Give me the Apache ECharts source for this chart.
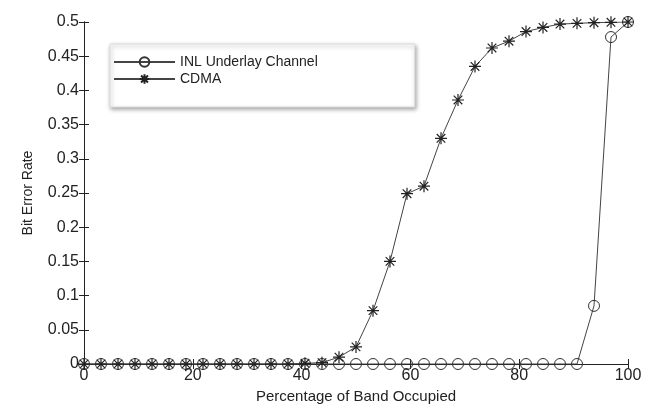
<!DOCTYPE html>
<html><head><meta charset="utf-8">
<script src="https://cdn.jsdelivr.net/npm/echarts@6/dist/echarts.min.js"></script>
<style>html,body{margin:0;padding:0;background:#fff}#c{width:655px;height:417px}</style>
</head><body><div id="c"></div>
<script>
const xValues = [0,3.125,6.25,9.375,12.5,15.625,18.75,21.875,25,28.125,31.25,34.375,37.5,40.625,43.75,46.875,50,53.125,56.25,59.375,62.5,65.625,68.75,71.875,75,78.125,81.25,84.375,87.5,90.625,93.75,96.875,100];
const inlValues = [0,0,0,0,0,0,0,0,0,0,0,0,0,0,0,0,0,0,0,0,0,0,0,0,0,0,0,0,0,0,0.085,0.478,0.5];
const cdmaValues = [0,0,0,0,0,0,0,0,0,0,0,0,0,0.001,0.002,0.010,0.025,0.078,0.150,0.249,0.260,0.330,0.386,0.435,0.462,0.472,0.486,0.492,0.497,0.498,0.499,0.4995,0.5];
const seriesNames = ['INL Underlay Channel','CDMA'];
const xTicks = [0,20,40,60,80,100];

const star = 'path://M0 -6 L0 6 M-6 0 L6 0 M-4.3 -4.3 L4.3 4.3 M-4.3 4.3 L4.3 -4.3';
const font = 'Liberation Sans, Arial, sans-serif';
const chart = echarts.init(document.getElementById('c'));
const pair = (vals) => xValues.map((x,i)=>[x,vals[i]]);
const axisCommon = {
  axisLine:{show:true,lineStyle:{color:'#222',width:1}},
  axisTick:{show:true,inside:true,length:5,lineStyle:{color:'#222'}},
  splitLine:{show:false}
};
chart.setOption({
  animation:false,
  backgroundColor:'#fff',
  grid:{left:84,right:27,top:22,bottom:53,containLabel:false},
  legend:{
    left:110, top:44, orient:'vertical',
    data:seriesNames,
    itemWidth:61, itemHeight:12, itemGap:3,
    padding:[11,97,21,3],
    backgroundColor:'#fff', borderColor:'#ddd', borderWidth:1,
    shadowBlur:4, shadowColor:'rgba(0,0,0,0.35)', shadowOffsetX:1, shadowOffsetY:2,
    textStyle:{fontFamily:font,fontSize:14,color:'#222',padding:[0,0,0,0]}
  },
  xAxis:[
    Object.assign({type:'value',min:0,max:100,interval:20,position:'bottom',
      name:'Percentage of Band Occupied',nameLocation:'middle',nameGap:25,
      nameTextStyle:{fontFamily:font,fontSize:15,color:'#222'},
      axisLabel:{fontFamily:font,fontSize:16,color:'#222',margin:4}},axisCommon),
    Object.assign({type:'value',min:0,max:100,interval:20,position:'top',axisLabel:{show:false}},axisCommon)
  ],
  yAxis:[
    Object.assign({type:'value',min:0,max:0.5,interval:0.05,position:'left',
      name:'Bit Error Rate',nameLocation:'middle',nameGap:49,
      nameTextStyle:{fontFamily:font,fontSize:14,color:'#222'},
      axisLabel:{fontFamily:font,fontSize:16,color:'#222',margin:5,formatter:v=>String(+v.toFixed(2))}},axisCommon),
    Object.assign({type:'value',min:0,max:0.5,interval:0.05,position:'right',axisLabel:{show:false}},axisCommon)
  ],
  series:[
    {name:seriesNames[0],type:'line',data:pair(inlValues),symbol:'circle',symbolSize:11,
     lineStyle:{color:'#444',width:1},itemStyle:{color:'rgba(255,255,255,0)',borderColor:'#333',borderWidth:1},z:2},
    {name:seriesNames[1],type:'line',data:pair(cdmaValues),symbol:star,symbolSize:12,
     lineStyle:{color:'#444',width:1},itemStyle:{color:'#222',borderColor:'#222',borderWidth:1.2},z:3}
  ]
});
</script></body></html>
